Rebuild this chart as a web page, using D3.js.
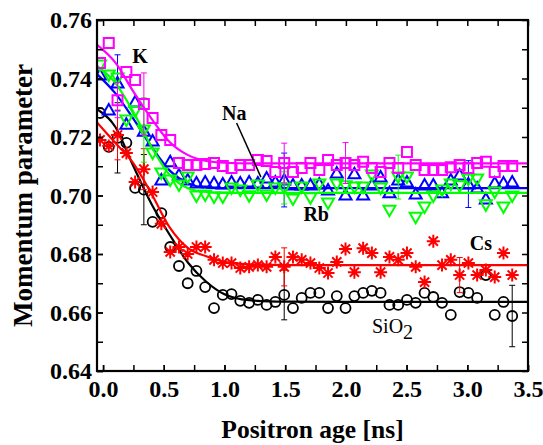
<!DOCTYPE html>
<html>
<head>
<meta charset="utf-8">
<script src="https://cdn.jsdelivr.net/npm/d3@7"></script>
<style>
  html, body { margin: 0; padding: 0; background: #fff; }
  svg text { font-family: "Liberation Serif", "Times New Roman", serif; }
</style>
</head>
<body>
<div id="chart"></div>
<script>
// positron age [ns] of every measured point
const times = [-0.025, 0.047, 0.119, 0.192, 0.264, 0.336, 0.408, 0.480, 0.553, 0.625,
  0.697, 0.769, 0.841, 0.914, 0.986, 1.058, 1.130, 1.203, 1.275, 1.347,
  1.419, 1.492, 1.564, 1.636, 1.708, 1.781, 1.853, 1.925, 1.997, 2.070,
  2.142, 2.214, 2.286, 2.359, 2.431, 2.503, 2.575, 2.648, 2.720, 2.792,
  2.864, 2.937, 3.009, 3.081, 3.153, 3.226, 3.298, 3.370];

// momentum parameter, one array per sample
const sio2 = [0.7282, 0.7166, 0.7197, 0.7180, 0.7026, 0.7020, 0.6910, 0.6940, 0.6824, 0.6759,
  0.6700, 0.6742, 0.6687, 0.6615, 0.6660, 0.6663, 0.6640, 0.6633, 0.6643, 0.6626,
  0.6636, 0.6660, 0.6615, 0.6650, 0.6667, 0.6667, 0.6615, 0.6656, 0.6615, 0.6656,
  0.6667, 0.6674, 0.6667, 0.6626, 0.6626, 0.6643, 0.6633, 0.6667, 0.6653, 0.6633,
  0.6592, 0.6670, 0.6667, 0.6650, 0.6728, 0.6592, 0.6636, 0.6588];
const cs = [0.7190, 0.7169, 0.7207, 0.7145, 0.7046, 0.7090, 0.7012, 0.6903, 0.6807, 0.6824,
  0.6800, 0.6824, 0.6824, 0.6780, 0.6769, 0.6769, 0.6752, 0.6756, 0.6762, 0.6756,
  0.6790, 0.6756, 0.6790, 0.6780, 0.6769, 0.6752, 0.6735, 0.6773, 0.6817, 0.6738,
  0.6820, 0.6803, 0.6738, 0.6790, 0.6780, 0.6803, 0.6756, 0.6704, 0.6844, 0.6762,
  0.6780, 0.6728, 0.6769, 0.6728, 0.6745, 0.6721, 0.6803, 0.6728];
const na = [0.7412, 0.7292, 0.7385, 0.7244, 0.7320, 0.7220, 0.7186, 0.7053, 0.7115, 0.7070,
  0.7053, 0.7043, 0.7046, 0.7043, 0.7039, 0.7046, 0.7043, 0.7046, 0.7043, 0.7060,
  0.7046, 0.7053, 0.7036, 0.7036, 0.7036, 0.7039, 0.7019, 0.7077, 0.7002, 0.7074,
  0.7002, 0.7036, 0.7063, 0.7009, 0.7053, 0.7046, 0.7005, 0.7036, 0.7036, 0.7009,
  0.7053, 0.7070, 0.7039, 0.7026, 0.6988, 0.7043, 0.7043, 0.7046];
const rb = [0.7446, 0.7412, 0.7402, 0.7258, 0.7289, 0.7224, 0.7145, 0.7077, 0.7053, 0.7036,
  0.7063, 0.6998, 0.7002, 0.6995, 0.6995, 0.7026, 0.7019, 0.6999, 0.7036, 0.7002,
  0.7026, 0.7026, 0.6988, 0.7029, 0.6992, 0.7039, 0.6974, 0.7039, 0.7033, 0.7029,
  0.7029, 0.7070, 0.7026, 0.6950, 0.7063, 0.7063, 0.6926, 0.6961, 0.6998, 0.7019,
  0.7039, 0.7033, 0.7056, 0.7056, 0.6968, 0.7012, 0.6961, 0.6998];
const k = [0.7453, 0.7521, 0.7326, 0.7422, 0.7395, 0.7313, 0.7265, 0.7207, 0.7190, 0.7111,
  0.7104, 0.7104, 0.7108, 0.7111, 0.7101, 0.7094, 0.7104, 0.7104, 0.7121, 0.7118,
  0.7080, 0.7111, 0.7080, 0.7094, 0.7111, 0.7087, 0.7121, 0.7104, 0.7111, 0.7104,
  0.7115, 0.7094, 0.7080, 0.7111, 0.7094, 0.7149, 0.7104, 0.7087, 0.7087, 0.7087,
  0.7097, 0.7104, 0.7094, 0.7111, 0.7115, 0.7080, 0.7101, 0.7101];

const fitTimes = [-0.05, 0.1, 0.25, 0.4, 0.55, 0.7, 0.85, 1.0, 1.2, 1.5, 2.0, 3.5];
const fitSio2 = [0.7295, 0.7235, 0.7100, 0.6970, 0.6865, 0.6770, 0.6705, 0.6662, 0.6642, 0.6637, 0.6636, 0.6636];
const fitCs   = [0.7250, 0.7180, 0.7110, 0.7005, 0.6890, 0.6820, 0.6792, 0.6773, 0.6765, 0.6762, 0.6762, 0.6762];
const fitNa   = [0.7415, 0.7350, 0.7262, 0.7166, 0.7085, 0.7042, 0.7027, 0.7025, 0.7025, 0.7025, 0.7025, 0.7025];
const fitRb   = [0.7443, 0.7385, 0.7285, 0.7165, 0.7070, 0.7025, 0.7012, 0.7009, 0.7009, 0.7009, 0.7009, 0.7009];
const fitK    = [0.7515, 0.7455, 0.7355, 0.7262, 0.7182, 0.7138, 0.7118, 0.7112, 0.7110, 0.7110, 0.7110, 0.7110];

// error bars: [point index, half width]
const errSio2 = [[2, 0.012], [5, 0.012], [21, 0.0085], [47, 0.0105]];
const errCs   = [[2, 0.0085], [5, 0.007], [21, 0.0065], [41, 0.006]];
const errNa   = [[2, 0.0096], [21, 0.0092], [42, 0.008]];
const errRb   = [[5, 0.011], [21, 0.0055], [34, 0.0075]];
const errK    = [[2, 0.006], [5, 0.0106], [21, 0.0068], [28, 0.007]];

const xTicks = [0, 0.5, 1, 1.5, 2, 2.5, 3, 3.5];
const yTicks = [0.64, 0.66, 0.68, 0.70, 0.72, 0.74, 0.76];

const width = 543, height = 445;
const svg = d3.select('#chart').append('svg')
    .attr('width', width)
    .attr('height', height);
svg.append('rect').attr('width', width).attr('height', height).attr('fill', '#fff');

const x = d3.scaleLinear().domain([-0.05, 3.5]).range([97, 528]);
const y = d3.scaleLinear().domain([0.64, 0.76]).range([371, 20]);

svg.append('clipPath').attr('id', 'plot')
  .append('rect').attr('x', 97).attr('y', 20).attr('width', 431).attr('height', 351);

const series = [
  { name: 'SiO2', vals: sio2, fit: fitSio2, err: errSio2, color: '#000000', shape: 'circle' },
  { name: 'Cs', vals: cs, fit: fitCs, err: errCs, color: '#ff0000', shape: 'star' },
  { name: 'Na', vals: na, fit: fitNa, err: errNa, color: '#0000ff', shape: 'up' },
  { name: 'Rb', vals: rb, fit: fitRb, err: errRb, color: '#00ff00', shape: 'down' },
  { name: 'K', vals: k, fit: fitK, err: errK, color: '#ff00ff', shape: 'square' }
];

function markerPath(shape) {
  if (shape === 'square') return 'M-5,-5H5V5H-5Z';
  if (shape === 'up') return 'M0,-6L6,4.5L-6,4.5Z';
  if (shape === 'down') return 'M0,6L6,-4.5L-6,-4.5Z';
  if (shape === 'star') return 'M0,-6.5V6.5M-6.5,0H6.5M-4.6,-4.6L4.6,4.6M-4.6,4.6L4.6,-4.6';
  return '';
}

const line = d3.line().curve(d3.curveMonotoneX);
const g = svg.append('g').attr('clip-path', 'url(#plot)');

series.forEach(s => {
  const sg = g.append('g');

  // error bars
  s.err.forEach(([i, e]) => {
    const cx = x(times[i]);
    const eb = sg.append('g').attr('stroke', s.color).attr('stroke-width', 1);
    eb.append('line').attr('x1', cx).attr('x2', cx).attr('y1', y(s.vals[i] + e)).attr('y2', y(s.vals[i] - e));
    eb.append('line').attr('x1', cx - 3).attr('x2', cx + 3).attr('y1', y(s.vals[i] + e)).attr('y2', y(s.vals[i] + e));
    eb.append('line').attr('x1', cx - 3).attr('x2', cx + 3).attr('y1', y(s.vals[i] - e)).attr('y2', y(s.vals[i] - e));
  });

  // markers
  const pts = sg.selectAll('.pt').data(s.vals).enter();
  if (s.shape === 'circle') {
    pts.append('circle')
      .attr('cx', (d, i) => x(times[i]))
      .attr('cy', d => y(d))
      .attr('r', 5)
      .attr('fill', 'none')
      .attr('stroke', s.color)
      .attr('stroke-width', 1.8);
  } else {
    pts.append('path')
      .attr('d', markerPath(s.shape))
      .attr('transform', (d, i) => `translate(${x(times[i])},${y(d)})`)
      .attr('fill', 'none')
      .attr('stroke', s.color)
      .attr('stroke-width', 2);
  }

  // fitted curve
  sg.append('path')
    .attr('d', line(s.fit.map((v, i) => [x(fitTimes[i]), y(v)])))
    .attr('fill', 'none')
    .attr('stroke', s.color)
    .attr('stroke-width', 2.2);
});

// axes with inward ticks
function styleAxis(sel) {
  sel.select('.domain').remove();
  sel.selectAll('line').attr('stroke', '#000').attr('stroke-width', 1.5);
  sel.selectAll('text')
    .attr('font-family', '"Liberation Serif", serif')
    .attr('font-size', '24px')
    .attr('font-weight', 'bold')
    .attr('fill', '#000');
}

const xMinor = d3.range(0, 3.51, 0.25);
const yMinor = d3.range(0.64, 0.7601, 0.01);

svg.append('g').attr('transform', 'translate(0,371)')
  .call(d3.axisBottom(x).tickValues(xMinor).tickSize(-6).tickFormat(''))
  .call(styleAxis);
svg.append('g').attr('transform', 'translate(0,371)')
  .call(d3.axisBottom(x).tickValues(xTicks).tickSize(-6).tickPadding(9).tickFormat(d3.format('.1f')))
  .call(styleAxis);
svg.append('g').attr('transform', 'translate(0,20)')
  .call(d3.axisTop(x).tickValues(xMinor).tickSize(-6).tickFormat(''))
  .call(styleAxis);
svg.append('g').attr('transform', 'translate(97,0)')
  .call(d3.axisLeft(y).tickValues(yMinor).tickSize(-6).tickFormat(''))
  .call(styleAxis);
svg.append('g').attr('transform', 'translate(97,0)')
  .call(d3.axisLeft(y).tickValues(yTicks).tickSize(-6).tickPadding(5).tickFormat(d3.format('.2f')))
  .call(styleAxis);
svg.append('g').attr('transform', 'translate(528,0)')
  .call(d3.axisRight(y).tickValues(yMinor).tickSize(-6).tickFormat(''))
  .call(styleAxis);

// frame
svg.append('rect')
  .attr('x', 97).attr('y', 20).attr('width', 431).attr('height', 351)
  .attr('fill', 'none').attr('stroke', '#000').attr('stroke-width', 2.2);

// axis titles
svg.append('text')
  .attr('x', x(1.725)).attr('y', 438)
  .attr('text-anchor', 'middle')
  .attr('font-size', '25.5px').attr('font-weight', 'bold')
  .text('Positron age [ns]');
svg.append('text')
  .attr('transform', `translate(32,${(20 + 371) / 2}) rotate(-90)`)
  .attr('text-anchor', 'middle')
  .attr('font-size', '27px').attr('font-weight', 'bold')
  .text('Momentum parameter');

// sample labels
function label(t, v, txt, weight) {
  return svg.append('text')
    .attr('x', x(t)).attr('y', y(v))
    .attr('font-size', '20px').attr('font-weight', weight || 'bold')
    .text(txt);
}
label(0.24, 0.7453, 'K');
label(0.98, 0.7258, 'Na');
label(1.65, 0.6913, 'Rb');
label(3.02, 0.6814, 'Cs');
const si = label(2.215, 0.6530, 'SiO', 'normal');
si.append('tspan').attr('dy', 6).attr('font-size', '20px').text('2');

svg.append('line')
  .attr('x1', x(1.10)).attr('y1', y(0.7248))
  .attr('x2', x(1.30)).attr('y2', y(0.7063))
  .attr('stroke', '#000').attr('stroke-width', 1.5);
</script>
</body>
</html>
